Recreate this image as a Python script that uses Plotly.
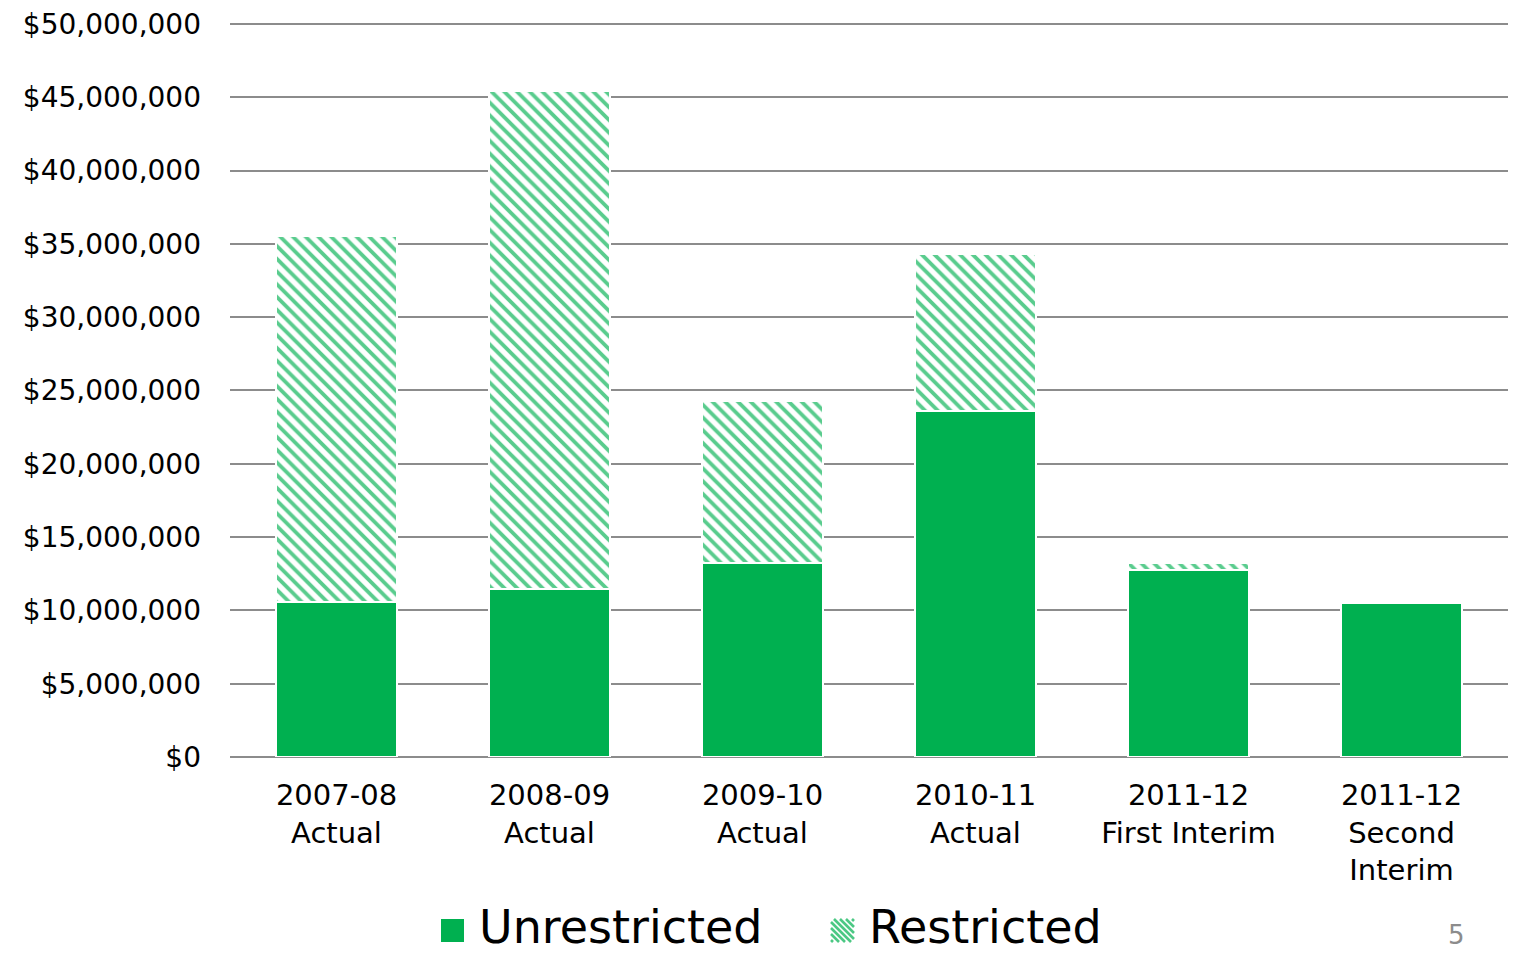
import plotly.graph_objects as go

categories = ["2007-08<br>Actual", "2008-09<br>Actual", "2009-10<br>Actual",
              "2010-11<br>Actual", "2011-12<br>First Interim", "2011-12<br>Second<br>Interim"]
unrestricted = [10570000, 11460000, 13230000, 23600000, 12760000, 10500000]
restricted = [24970000, 33970000, 11050000, 10710000, 470000, 0]
tick_vals = [0, 5e6, 10e6, 15e6, 20e6, 25e6, 30e6, 35e6, 40e6, 45e6, 50e6]
tick_text = ["$0", "$5,000,000", "$10,000,000", "$15,000,000", "$20,000,000", "$25,000,000",
             "$30,000,000", "$35,000,000", "$40,000,000", "$45,000,000", "$50,000,000"]
series_names = ["Unrestricted", "Restricted"]

GREEN = "#00b050"
FONT = "DejaVu Sans, Verdana, sans-serif"

W, H = 1515, 958
L, R, T, B = 230, 7, 21, 201
PW, PH = W - L - R, H - T - B


def px2paper(x, y):
    return (x - L) / PW, (H - B - y) / PH


fig = go.Figure()
fig.add_trace(go.Bar(
    x=categories, y=unrestricted, name=series_names[0], showlegend=False,
    marker=dict(color=GREEN, line=dict(color="white", width=2)),
))
fig.add_trace(go.Bar(
    x=categories, y=restricted, name=series_names[1], showlegend=False,
    marker=dict(color="white", line=dict(color="white", width=2),
                pattern=dict(shape="\\", fgcolor=GREEN, bgcolor="white",
                             fgopacity=0.65, size=9, solidity=0.42)),
))

shapes = []
annotations = []

SW_TOP = 919
SW = 23
# Legend: Unrestricted swatch
x0, y0 = px2paper(441, SW_TOP + SW)
x1, y1 = px2paper(441 + SW, SW_TOP)
shapes.append(dict(type="rect", xref="paper", yref="paper", x0=x0, y0=y0, x1=x1, y1=y1,
                   fillcolor=GREEN, line=dict(width=0)))
# Legend: Restricted hatched swatch
sx0, sy0 = 831, SW_TOP
segs = []
for c in range(-21, 23, 6):
    pts = []
    for t in (0, SW):
        yy = t + c
        if 0 <= yy <= SW:
            pts.append((t, yy))
    for t in (0, SW):
        xx = t - c
        if 0 <= xx <= SW:
            pts.append((xx, t))
    pts = sorted(set(pts))
    if len(pts) >= 2:
        a, b = pts[0], pts[-1]
        ax, ay = px2paper(sx0 + a[0], sy0 + a[1])
        bx, by = px2paper(sx0 + b[0], sy0 + b[1])
        segs.append(f"M{ax:.5f},{ay:.5f}L{bx:.5f},{by:.5f}")
shapes.append(dict(type="path", xref="paper", yref="paper", path="".join(segs),
                   line=dict(color="rgba(0,176,80,0.7)", width=2.6)))

LEG_Y = 927
tx, ty = px2paper(478, LEG_Y)
annotations.append(dict(text=series_names[0], x=tx, y=ty, xref="paper", yref="paper",
                        xanchor="left", yanchor="middle", showarrow=False, borderpad=0,
                        font=dict(size=46, family=FONT, color="black")))
tx, ty = px2paper(868, LEG_Y)
annotations.append(dict(text=series_names[1], x=tx, y=ty, xref="paper", yref="paper",
                        xanchor="left", yanchor="middle", showarrow=False, borderpad=0,
                        font=dict(size=46, family=FONT, color="black")))
# page number
tx, ty = px2paper(1456, 935)
annotations.append(dict(text="5", x=tx, y=ty, xref="paper", yref="paper",
                        xanchor="center", yanchor="middle", showarrow=False,
                        font=dict(size=26, color="#8c8c8c", family=FONT)))

fig.update_layout(
    barmode="stack",
    bargap=0.43,
    width=W, height=H,
    margin=dict(l=L, r=R, t=T, b=B),
    paper_bgcolor="white", plot_bgcolor="white",
    font=dict(family=FONT, color="black"),
    showlegend=False,
    xaxis=dict(tickfont=dict(size=29, family=FONT), showgrid=False, ticks="",
               showline=False, ticklabelstandoff=18),
    yaxis=dict(range=[0, 50.2e6], tickvals=tick_vals, ticktext=tick_text,
               tickfont=dict(size=28, family=FONT), showgrid=True,
               gridcolor="#8c8c8c", gridwidth=1.5, zeroline=True,
               zerolinecolor="#8c8c8c", zerolinewidth=1.5, ticks="",
               ticklabelstandoff=28),
    shapes=shapes,
    annotations=annotations,
)

fig.write_html("out.html")
